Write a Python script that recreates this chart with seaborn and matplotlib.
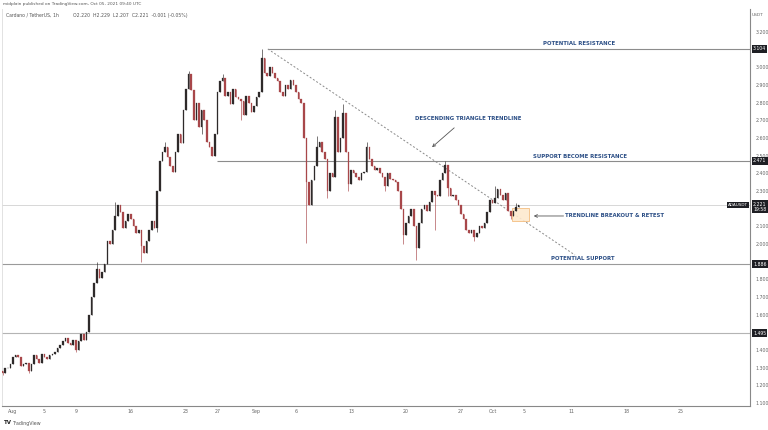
import matplotlib
matplotlib.use("Agg")
import matplotlib.pyplot as plt
import matplotlib.transforms as mtransforms
import pandas as pd
import seaborn as sns
import numpy as np
sns.set_theme(style="white")
plt.rcParams['font.family'] = ['DejaVu Sans']

# ADAUSDT, 8h closes (Jul 30 16:00 -> Oct 5 08:00 UTC)
close = [1.27, 1.30, 1.30, 1.32, 1.36, 1.37, 1.36, 1.31, 1.32, 1.33,
         1.28, 1.32, 1.37, 1.35, 1.33, 1.38, 1.36, 1.35, 1.37, 1.38,
         1.39, 1.41, 1.43, 1.45, 1.47, 1.44, 1.43, 1.46, 1.40, 1.45,
         1.49, 1.46, 1.50, 1.60, 1.70, 1.78, 1.86, 1.81, 1.84, 1.89,
         2.02, 2.00, 2.08, 2.16, 2.22, 2.18, 2.09, 2.13, 2.17, 2.14,
         2.10, 2.06, 2.08, 1.99, 1.95, 2.02, 2.08, 2.13, 2.09, 2.30,
         2.47, 2.52, 2.55, 2.49, 2.44, 2.41, 2.52, 2.62, 2.57, 2.76,
         2.88, 2.96, 2.87, 2.70, 2.80, 2.66, 2.76, 2.70, 2.58, 2.55,
         2.50, 2.62, 2.86, 2.92, 2.94, 2.84, 2.86, 2.79, 2.88, 2.83,
         2.82, 2.81, 2.73, 2.84, 2.80, 2.75, 2.78, 2.83, 2.86, 3.05,
         2.97, 2.95, 3.00, 2.97, 2.94, 2.92, 2.86, 2.84, 2.90, 2.88,
         2.93, 2.90, 2.86, 2.82, 2.80, 2.60, 2.35, 2.22, 2.36, 2.44,
         2.55, 2.58, 2.52, 2.48, 2.30, 2.40, 2.38, 2.72, 2.52, 2.60,
         2.74, 2.52, 2.34, 2.42, 2.40, 2.38, 2.36, 2.40, 2.41, 2.55,
         2.48, 2.44, 2.42, 2.43, 2.40, 2.38, 2.33, 2.40, 2.37, 2.36,
         2.35, 2.30, 2.20, 2.05, 2.12, 2.16, 2.20, 2.10, 1.98, 2.12,
         2.20, 2.22, 2.19, 2.24, 2.30, 2.28, 2.27, 2.36, 2.40, 2.45,
         2.32, 2.27, 2.28, 2.25, 2.22, 2.17, 2.14, 2.08, 2.06, 2.08,
         2.04, 2.06, 2.10, 2.09, 2.12, 2.18, 2.25, 2.23, 2.26, 2.31,
         2.28, 2.25, 2.29, 2.19, 2.16, 2.19, 2.21, 2.221]
first_open = 1.28

# visible wicks (candle index -> price)
wick_high = {36: 1.90, 43: 2.24, 62: 2.58, 71: 2.98, 84: 2.96, 99: 3.104,
             120: 2.61, 127: 2.76, 130: 2.79, 139: 2.58, 169: 2.47, 188: 2.33,
             196: 2.23}
wick_low = {0: 1.26, 10: 1.27, 28: 1.39, 53: 1.90, 59: 2.07, 76: 2.62, 91: 2.70,
            116: 2.007, 124: 2.26, 132: 2.30, 146: 2.30, 153: 2.00, 158: 1.91,
            165: 2.08, 170: 2.27, 180: 2.02, 194: 2.14}

levels = [3.104, 2.471, 1.886, 1.495]
last_price = 2.221

tick_days = [0, 4, 8, 15, 22, 26, 31, 36, 43, 50, 57, 61, 65, 71, 78, 85]
tick_labels = ["Aug", "5", "9", "16", "23", "27", "Sep", "6", "13", "20", "27",
               "Oct", "5", "11", "18", "25"]
price_ticks = [1.1, 1.2, 1.3, 1.4, 1.6, 1.7, 1.8, 2.0, 2.1, 2.3, 2.4, 2.5,
               2.6, 2.7, 2.8, 2.9, 3.0, 3.2]

times = pd.date_range("2021-07-30 16:00", periods=len(close), freq="8h")
df = pd.DataFrame({"time": times, "close": close})
df["open"] = [first_open] + close[:-1]
df["day"] = (df["time"] - pd.Timestamp("2021-08-01")) / pd.Timedelta(days=1)
df["high"] = df[["open", "close"]].max(axis=1)
df["low"] = df[["open", "close"]].min(axis=1)
for k, v in wick_high.items():
    df.loc[k, "high"] = v
for k, v in wick_low.items():
    df.loc[k, "low"] = v
up = df["close"] >= df["open"]
colors = np.where(up, "#2e2a2a", "#a8474a")

fig = plt.figure(figsize=(7.68, 4.30), dpi=100)
ax = fig.add_axes([2 / 768, 1 - 406 / 430, 748 / 768, 397 / 430])
x0, x1 = -1.40, 93.77
ax.set_xlim(x0, x1)
ax.set_ylim(1.084, 3.330)

# level lines
ax.axhline(last_price, color="#c8c8c8", lw=0.5, zorder=1)
ax.hlines(3.104, 32.4, x1, color="#8c8c8c", lw=0.8, zorder=1)
ax.hlines(2.471, 25.95, x1, color="#8c8c8c", lw=0.8, zorder=1)
ax.axhline(1.886, color="#9a9a9a", lw=0.8, zorder=1)
ax.axhline(1.495, color="#b4b4b4", lw=0.8, zorder=1)

# candles
ax.vlines(df["day"], df["low"], df["high"], colors=colors, lw=0.45, zorder=3)
ax.bar(df["day"], (df["close"] - df["open"]).abs(), bottom=df[["open", "close"]].min(axis=1),
       width=0.2, color=colors, edgecolor=colors, lw=0.2, zorder=3)

# descending trendline
ax.plot([32.42, 71.5], [3.104, 1.938], ls=(0, (2, 2)), color="#8a8a8a", lw=0.7, zorder=2)

# retest box
ax.add_patch(plt.Rectangle((63.5, 2.131), 2.15, 0.073, facecolor="#fde9cf",
                           edgecolor="#f3b774", lw=0.6, alpha=0.9, zorder=2))

note = dict(color="#2c4f86", fontsize=3.9, fontweight="bold", ha="center", va="center")
ax.text(72.0, 3.132, "POTENTIAL RESISTANCE", **note)
ax.text(57.9, 2.713, "DESCENDING TRIANGLE TRENDLINE", **note)
ax.text(72.1, 2.498, "SUPPORT BECOME RESISTANCE", **note)
ax.text(76.5, 2.159, "TRENDLINE BREAKOUT & RETEST", **note)
ax.text(72.5, 1.916, "POTENTIAL SUPPORT", **note)
arrow = dict(arrowstyle="->", color="#555555", lw=0.6, mutation_scale=5)
ax.annotate("", xy=(53.05, 2.538), xytext=(56.4, 2.668), arrowprops=arrow)
ax.annotate("", xy=(65.9, 2.159), xytext=(70.4, 2.159), arrowprops=arrow)

# axes look
ax.spines["top"].set_visible(False)
ax.spines["right"].set_color("#888888")
ax.spines["right"].set_linewidth(0.8)
ax.spines["bottom"].set_color("#888888")
ax.spines["bottom"].set_linewidth(0.8)
ax.spines["left"].set_color("#dddddd")
ax.spines["left"].set_linewidth(0.6)
ax.yaxis.tick_right()
ax.set_yticks(price_ticks)
ax.set_yticklabels([f"{v:.3f}" for v in price_ticks])
ax.set_xticks(tick_days)
ax.set_xticklabels(tick_labels)
ax.tick_params(axis="y", length=0, pad=4, labelsize=3.4, labelcolor="#666666")
ax.tick_params(axis="x", length=0, pad=2.5, labelsize=3.4, labelcolor="#666666")
ax.grid(False)

# price tags on the right axis
tr = mtransforms.blended_transform_factory(ax.transAxes, ax.transData)
tag = dict(transform=tr, fontsize=3.3, color="white", ha="left", va="center", zorder=6,
           bbox=dict(boxstyle="square,pad=0.3", fc="#1e1f24", ec="none"))
for lv in levels:
    ax.text(1.004, lv, f"{lv:.3f}", **tag)
ax.text(1.004, last_price - 0.01, f"{last_price:.3f}\n19:58", linespacing=1.0, **tag)
ax.text(0.997, last_price, "ADAUSDT", transform=tr, fontsize=3.0, color="white",
        ha="right", va="center", zorder=6,
        bbox=dict(boxstyle="square,pad=0.3", fc="#1e1f24", ec="none"))

fig.text(752 / 768, 1 - 15 / 430, "USDT", fontsize=3.2, color="#666666", va="center")
fig.text(3 / 768, 1 - 4 / 430, "midplain published on TradingView.com, Oct 05, 2021 09:40 UTC",
         fontsize=3.1, color="#555555", va="center")
fig.text(6 / 768, 1 - 15 / 430, "Cardano / TetherUS, 1h", fontsize=3.3, color="#555555", va="center")
fig.text(73 / 768, 1 - 15 / 430, "O2.220  H2.229  L2.207  C2.221  -0.001 (-0.05%)",
         fontsize=3.3, color="#555555", va="center")
fig.text(4 / 768, 1 - 423 / 430, "TV", fontsize=4, fontweight="bold", color="#222222", va="center")
fig.text(13 / 768, 1 - 423 / 430, "TradingView", fontsize=3.4, color="#555555", va="center")

fig.savefig("out.png", dpi=100)
